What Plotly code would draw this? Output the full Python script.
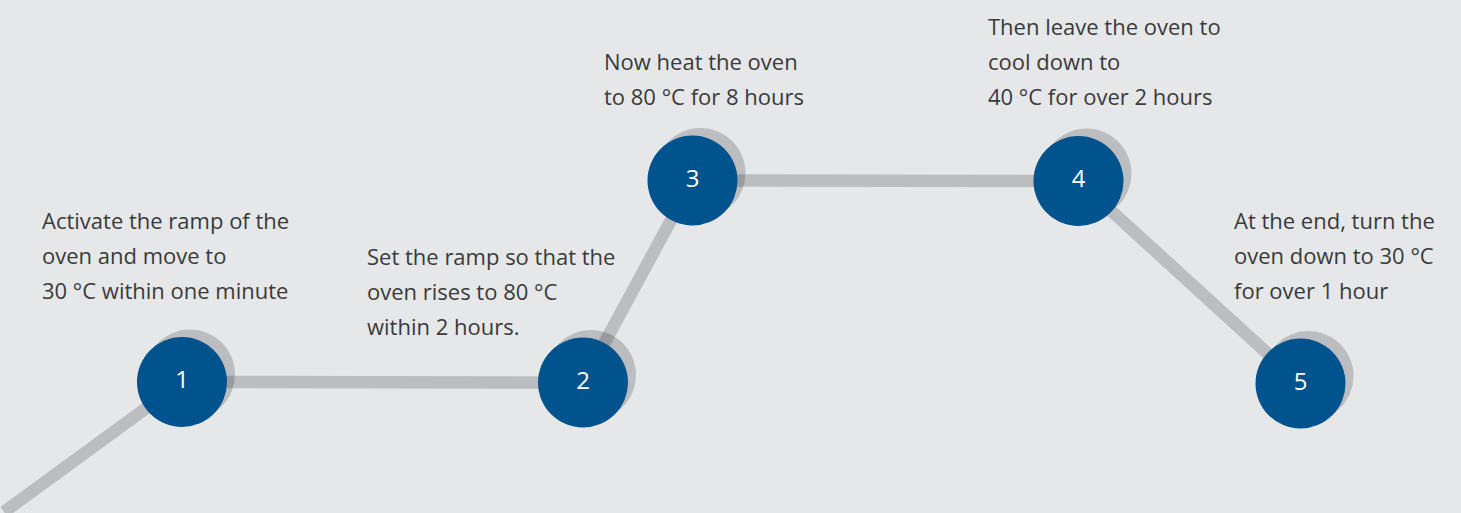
import plotly.graph_objects as go

# Step positions (chart units: x = process progress, y = level, screen-like)
step_labels = ["1", "2", "3", "4", "5"]
step_x = [182, 583, 692.5, 1078.5, 1300.5]
step_y = [382, 382.5, 180.5, 181, 383.5]
path_start_x = [4]
path_start_y = [512]

step_texts = [
    ["Activate the ramp of the", "oven and move to", "30 °C within one minute"],
    ["Set the ramp so that the", "oven rises to 80 °C", "within 2 hours."],
    ["Now heat the oven", "to 80 °C for 8 hours"],
    ["Then leave the oven to", "cool down to", "40 °C for over 2 hours"],
    ["At the end, turn the", "oven down to 30 °C", "for over 1 hour"],
]
text_x = [40, 365, 602, 986, 1232]
text_y0 = [220, 256, 61, 26, 220]
line_gap = 35

BG = "#e6e7e9"
GREY = "rgba(0,0,8,0.18)"
BLUE = "#00538c"
TXT = "#3a3a3a"

fig = go.Figure()

# shadow circles
fig.add_trace(go.Scatter(
    x=[v + 8 for v in step_x], y=[v - 7.5 for v in step_y],
    mode="markers", marker=dict(size=90, color=GREY, line=dict(width=0)),
    hoverinfo="skip", showlegend=False))

# path line
fig.add_trace(go.Scatter(
    x=path_start_x + step_x, y=path_start_y + step_y,
    mode="lines", line=dict(color=GREY, width=12.5),
    hoverinfo="skip", showlegend=False))

# blue circles
fig.add_trace(go.Scatter(
    x=step_x, y=step_y, mode="markers+text",
    marker=dict(size=90, color=BLUE, line=dict(width=0)),
    text=step_labels, textposition="middle center",
    textfont=dict(family="Open Sans", size=24, color="white"),
    hoverinfo="skip", showlegend=False))

annotations = []
for lines, tx, ty in zip(step_texts, text_x, text_y0):
    for i, ln in enumerate(lines):
        annotations.append(dict(
            x=tx, y=ty + i * line_gap, xref="x", yref="y",
            text=ln, showarrow=False, xanchor="left", yanchor="middle",
            font=dict(family="Open Sans", size=22, color=TXT)))

fig.update_layout(
    width=1461, height=513,
    margin=dict(l=0, r=0, t=0, b=0),
    paper_bgcolor=BG, plot_bgcolor=BG,
    annotations=annotations,
    xaxis=dict(range=[0, 1461], visible=False, fixedrange=True),
    yaxis=dict(range=[513, 0], visible=False, fixedrange=True),
)

fig.write_html(
    "out.html",
    config={"displayModeBar": False},
    post_script="document.body.style.margin='0';document.body.style.overflow='hidden';document.body.style.background='#e6e7e9';",
)
